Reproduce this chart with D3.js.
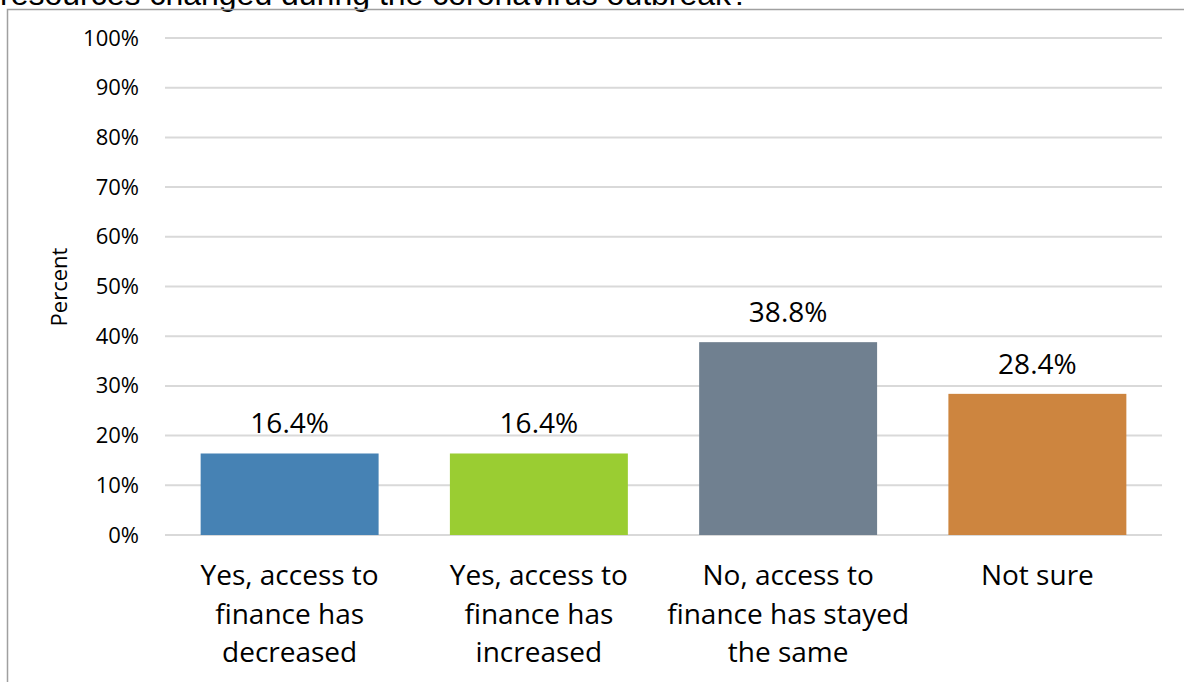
<!DOCTYPE html>
<html><head><meta charset="utf-8">
<script src="https://cdn.jsdelivr.net/npm/d3@7"></script>
<style>body{margin:0;background:#fff;overflow:hidden}</style>
</head><body>
<svg id="c" width="1184" height="682"></svg>
<script>
const categories = [
  ["Yes, access to","finance has","decreased"],
  ["Yes, access to","finance has","increased"],
  ["No, access to","finance has stayed","the same"],
  ["Not sure"]
];
const values = [16.4, 16.4, 38.8, 28.4];
const colors = ["#4682b4", "#9acd32", "#708090", "#cd853f"];
const yTicks = [0,10,20,30,40,50,60,70,80,90,100];
const titleText = "resources changed during the coronavirus outbreak?";
const yTitle = "Percent";

const svg = d3.select("#c");
const font = "'Open Sans', Calibri, sans-serif";

svg.append("text").attr("x", 0).attr("y", 5)
  .attr("font-family", "'Liberation Sans', Arial, sans-serif").attr("font-size", 32)
  .attr("fill", "#000").text(titleText);

svg.append("rect").attr("x", 7.5).attr("y", 9.5).attr("width", 1190).attr("height", 690)
  .attr("fill", "none").attr("stroke", "#a0a0a0").attr("stroke-width", 1.5);

const idx = categories.map((d,i)=>i);
const x = d3.scaleBand().domain(idx).range([165, 1162]).paddingInner(0.286).paddingOuter(0.143);
const y = d3.scaleLinear().domain([0,100]).range([535, 38]);

const grid = svg.append("g");
grid.selectAll("line").data(yTicks).join("line")
  .attr("x1", 165).attr("x2", 1162)
  .attr("y1", d=>y(d)).attr("y2", d=>y(d))
  .attr("stroke", "#d9d9d9").attr("stroke-width", 2);

const yAxis = svg.append("g").attr("transform", "translate(165,0)")
  .call(d3.axisLeft(y).tickValues(yTicks).tickFormat(d=>d+"%").tickSize(0).tickPadding(26));
yAxis.select(".domain").remove();
yAxis.selectAll("text").attr("font-family", font).attr("font-size", 22).attr("fill", "#000");

svg.selectAll("rect.bar").data(values).join("rect").attr("class","bar")
  .attr("x", (d,i)=>x(i)).attr("width", x.bandwidth())
  .attr("y", d=>y(d)).attr("height", d=>y(0)-y(d))
  .attr("fill", (d,i)=>colors[i]);

svg.selectAll("text.val").data(values).join("text").attr("class","val")
  .attr("x", (d,i)=>x(i)+x.bandwidth()/2).attr("y", d=>y(d)-20)
  .attr("text-anchor","middle").attr("font-family", font).attr("font-size", 28)
  .attr("fill","#000").text(d=>d.toFixed(1)+"%");

const cat = svg.selectAll("text.cat").data(categories).join("text").attr("class","cat")
  .attr("text-anchor","middle").attr("font-family", font).attr("font-size", 28).attr("fill","#000");
cat.each(function(lines,i){
  d3.select(this).selectAll("tspan").data(lines).join("tspan")
    .attr("x", x(i)+x.bandwidth()/2).attr("y", (d,j)=>585+j*38.5).text(d=>d);
});

svg.append("text").attr("transform","translate(67,287) rotate(-90)")
  .attr("text-anchor","middle").attr("font-family", font).attr("font-size", 22)
  .attr("fill","#000").text(yTitle);
</script>
</body></html>
